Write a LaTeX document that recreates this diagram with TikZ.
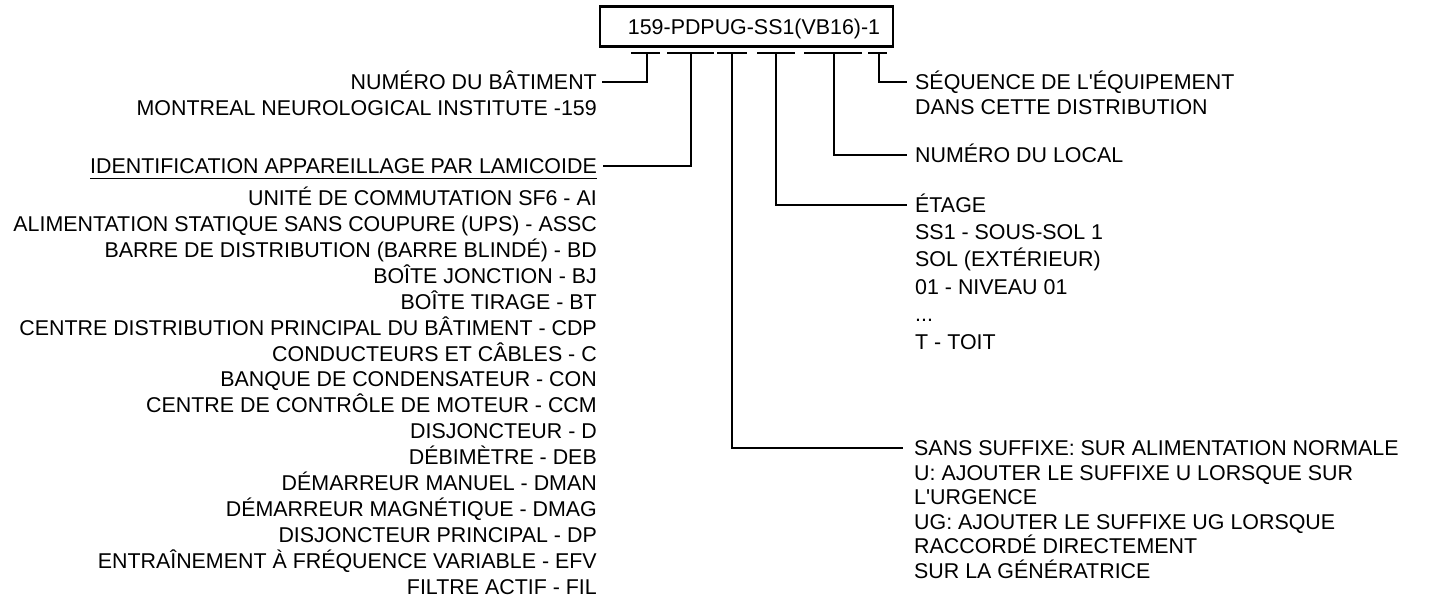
\documentclass[tikz,border=0pt]{standalone}
\usepackage{fontspec}
\setmainfont{Liberation Sans}[Ligatures=TeXOff]
\newcommand{\apo}{\char"0027\relax}
\begin{document}
\begin{tikzpicture}[x=1pt,y=-1pt,
  lbl/.style={font=\fontsize{21.4}{25}\selectfont, inner sep=0pt, text height=15.3pt, text depth=0pt},
  conn/.style={line width=1.6pt},
  seg/.style={line width=1.6pt},
  titlebox/.style={lbl, draw, line width=2.8pt, minimum width=293pt, minimum height=40.7pt}]
\fill[white] (0,0) rectangle (1453,600);
\useasboundingbox (0,0) rectangle (1453,600);

\node[titlebox] (title) at (746.5,26.5) {\hspace{15pt}159-PDPUG-SS1(VB16)-1};

\foreach \n/\a/\b/\s in {1/631/660/647, 2/667/714/691, 3/717/747/732, 4/757/795/776, 5/804/862/834, 6/868/887/879} {
  \coordinate (sa\n) at (\a,53);
  \coordinate (sb\n) at (\b,53);
  \coordinate (t\n) at (\s,53);
  \draw[seg] (sa\n) -- (sb\n);
}

% left column
\node[lbl, anchor=east] (num) at (597,82) {NUMÉRO DU BÂTIMENT};
\node[lbl, anchor=east] (mni) at (597,108) {MONTREAL NEUROLOGICAL INSTITUTE -159};
\node[lbl, anchor=east] (idn) at (597,166) {IDENTIFICATION APPAREILLAGE PAR LAMICOIDE};
\draw[line width=1.5pt] ([yshift=-4.4pt]idn.south west) -- ([yshift=-4.4pt]idn.south east);

\foreach \t [count=\i] in {
  {UNITÉ DE COMMUTATION SF6 - AI},
  {ALIMENTATION STATIQUE SANS COUPURE (UPS) - ASSC},
  {BARRE DE DISTRIBUTION (BARRE BLINDÉ) - BD},
  {BOÎTE JONCTION - BJ},
  {BOÎTE TIRAGE - BT},
  {CENTRE DISTRIBUTION PRINCIPAL DU BÂTIMENT - CDP},
  {CONDUCTEURS ET CÂBLES - C},
  {BANQUE DE CONDENSATEUR - CON},
  {CENTRE DE CONTRÔLE DE MOTEUR - CCM},
  {DISJONCTEUR - D},
  {DÉBIMÈTRE - DEB},
  {DÉMARREUR MANUEL - DMAN},
  {DÉMARREUR MAGNÉTIQUE - DMAG},
  {DISJONCTEUR PRINCIPAL - DP},
  {ENTRAÎNEMENT À FRÉQUENCE VARIABLE - EFV},
  {FILTRE ACTIF - FIL}} {
  \node[lbl, anchor=east] (e\i) at (597,{198+25.9*(\i-1)}) {\t};
}

% right column
\node[lbl, anchor=west] (seq) at (915,82) {SÉQUENCE DE L\apo ÉQUIPEMENT};
\node[lbl, anchor=west] (dsd) at (915,107) {DANS CETTE DISTRIBUTION};
\node[lbl, anchor=west] (loc) at (915,155) {NUMÉRO DU LOCAL};
\node[lbl, anchor=west] (etg) at (915,205) {ÉTAGE};
\node[lbl, anchor=west] (ss1) at (915,232) {SS1 - SOUS-SOL 1};
\node[lbl, anchor=west] (sol) at (915,259) {SOL (EXTÉRIEUR)};
\node[lbl, anchor=west] (n01) at (915,287) {01 - NIVEAU 01};
\node[lbl, anchor=west] (dts) at (915,314) {...};
\node[lbl, anchor=west] (toit) at (915,342) {T - TOIT};

\node[lbl, anchor=west] (sans) at (914,448) {SANS SUFFIXE: SUR ALIMENTATION NORMALE};
\node[lbl, anchor=west] (uu) at (914,472.5) {U: AJOUTER LE SUFFIXE U LORSQUE SUR};
\node[lbl, anchor=west] (urg) at (914,497) {L\apo URGENCE};
\node[lbl, anchor=west] (ug) at (914,521.5) {UG: AJOUTER LE SUFFIXE UG LORSQUE};
\node[lbl, anchor=west] (rac) at (914,546) {RACCORDÉ DIRECTEMENT};
\node[lbl, anchor=west] (gen) at (914,570.5) {SUR LA GÉNÉRATRICE};

% connectors
\draw[conn] (t1) |- ([xshift=5pt]num.east);
\draw[conn] (t2) |- ([xshift=6pt]idn.east);
\draw[conn] (t3) |- ([xshift=-11pt]sans.west);
\draw[conn] (t4) |- ([xshift=-8pt]etg.west);
\draw[conn] (t5) |- ([xshift=-8pt]loc.west);
\draw[conn] (t6) |- ([xshift=-8pt]seq.west);
\end{tikzpicture}
\end{document}
